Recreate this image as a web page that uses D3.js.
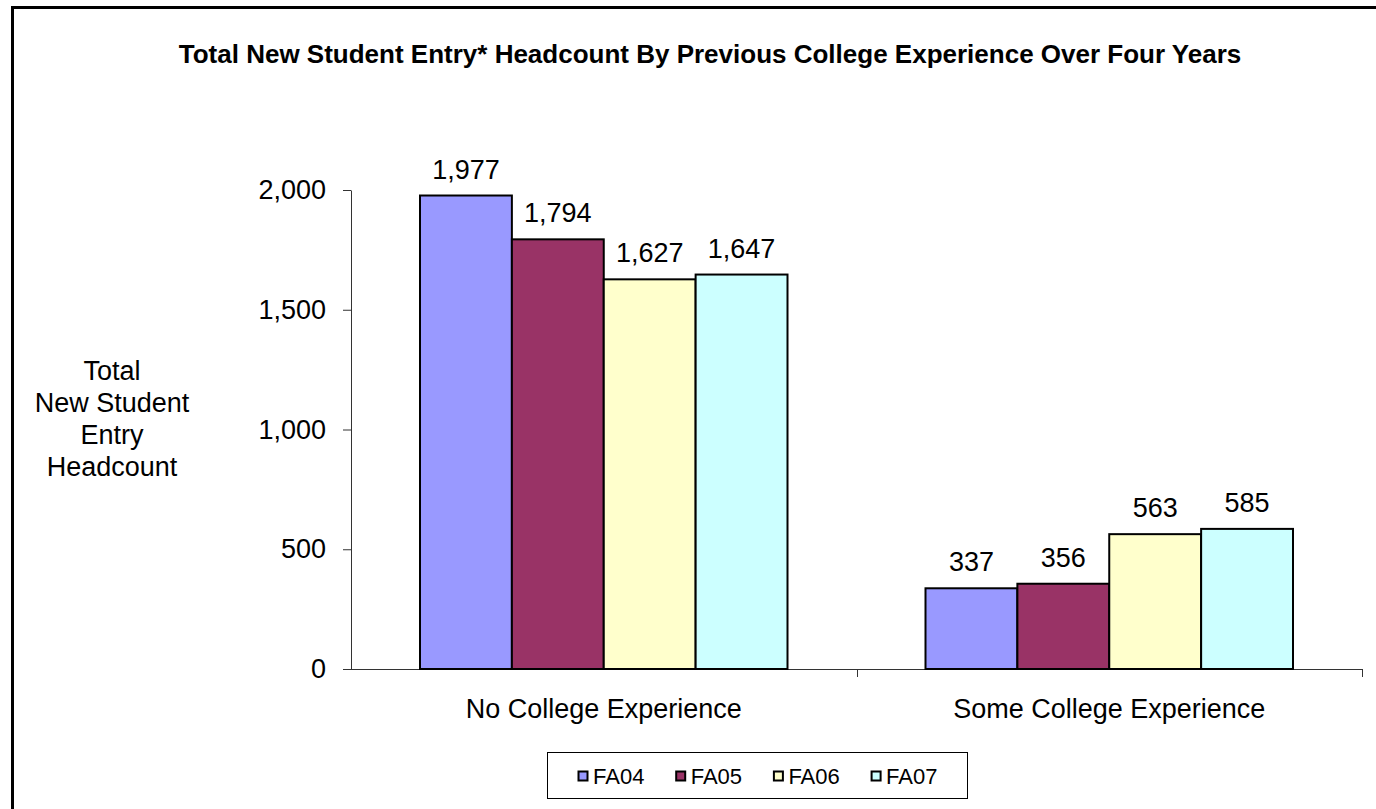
<!DOCTYPE html>
<html>
<head>
<meta charset="utf-8">
<script src="https://cdn.jsdelivr.net/npm/d3@7"></script>
<style>
  html, body { margin: 0; padding: 0; background: #fff; overflow: hidden; }
  svg text { font-family: "Liberation Sans", Arial, sans-serif; fill: #000; }
</style>
</head>
<body>
<svg id="chart" width="1376" height="809"></svg>
<script>
// data
const categories = ["No College Experience", "Some College Experience"];
const seriesNames = ["FA04", "FA05", "FA06", "FA07"];
const seriesColors = ["#9999FF", "#993366", "#FFFFCC", "#CCFFFF"];
const noCollege = [1977, 1794, 1627, 1647];
const someCollege = [337, 356, 563, 585];
const yTicks = [0, 500, 1000, 1500, 2000];
const yTitleLines = ["Total", "New Student", "Entry", "Headcount"];

const rows = categories.map((c, i) => ({
  category: c,
  values: [noCollege, someCollege][i].map((v, j) => ({ series: seriesNames[j], value: v }))
}));

const svg = d3.select("#chart");

// outer frame (runs past the right / bottom edge like the original)
svg.append("rect")
  .attr("x", 12.5).attr("y", 7.5)
  .attr("width", 1420).attr("height", 860)
  .attr("fill", "none").attr("stroke", "#000").attr("stroke-width", 3);

svg.append("text")
  .attr("x", 710).attr("y", 63)
  .attr("text-anchor", "middle")
  .style("font-size", "26px").style("font-weight", "bold")
  .text("Total New Student Entry* Headcount By Previous College Experience Over Four Years");

const x = d3.scaleBand().domain(categories).range([351, 1362]);
const xInner = d3.scaleBand().domain(seriesNames).range([69, x.bandwidth() - 69]);
const y = d3.scaleLinear().domain([0, 2000]).range([669, 190]);
const color = d3.scaleOrdinal().domain(seriesNames).range(seriesColors);

// y axis
const yAxis = svg.append("g")
  .attr("transform", "translate(351,0)")
  .call(d3.axisLeft(y).tickValues(yTicks).tickSize(8).tickSizeOuter(0).tickPadding(17).tickFormat(d3.format(",")));
yAxis.select(".domain").attr("stroke", "#333");
yAxis.selectAll(".tick line").attr("stroke", "#333");
yAxis.selectAll(".tick text").style("font-size", "27px").attr("fill", "#000");

// x axis: baseline plus ticks between categories
const xg = svg.append("g");
xg.append("line")
  .attr("x1", x.range()[0]).attr("x2", x.range()[1])
  .attr("y1", y(0) + 0.5).attr("y2", y(0) + 0.5)
  .attr("stroke", "#333");
const bounds = categories.map(c => x(c)).concat([x.range()[1]]);
xg.selectAll("line.tk").data(bounds.slice(1)).join("line")
  .attr("class", "tk")
  .attr("x1", d => Math.round(d) + 0.5).attr("x2", d => Math.round(d) + 0.5)
  .attr("y1", y(0)).attr("y2", y(0) + 8)
  .attr("stroke", "#333");
xg.selectAll("text").data(categories).join("text")
  .attr("x", d => x(d) + x.bandwidth() / 2)
  .attr("y", 718)
  .attr("text-anchor", "middle")
  .style("font-size", "27px")
  .text(d => d);

// bars
const groups = svg.selectAll("g.grp").data(rows).join("g")
  .attr("class", "grp")
  .attr("transform", d => `translate(${x(d.category)},0)`);

groups.selectAll("rect").data(d => d.values).join("rect")
  .attr("x", d => xInner(d.series))
  .attr("y", d => y(d.value))
  .attr("width", xInner.bandwidth())
  .attr("height", d => y(0) - y(d.value))
  .attr("fill", d => color(d.series))
  .attr("stroke", "#000").attr("stroke-width", 2);

groups.selectAll("text").data(d => d.values).join("text")
  .attr("x", d => xInner(d.series) + xInner.bandwidth() / 2)
  .attr("y", d => y(d.value) - 17)
  .attr("text-anchor", "middle")
  .style("font-size", "27px")
  .text(d => d3.format(",")(d.value));

// y axis title
svg.append("text")
  .attr("text-anchor", "middle")
  .style("font-size", "27px")
  .selectAll("tspan").data(yTitleLines).join("tspan")
  .attr("x", 112)
  .attr("y", (d, i) => 380 + i * 32)
  .text(d => d);

// legend
const legend = svg.append("g");
legend.append("rect")
  .attr("x", 547.5).attr("y", 752.5)
  .attr("width", 420).attr("height", 46)
  .attr("fill", "#fff").attr("stroke", "#000").attr("stroke-width", 1);
const items = legend.selectAll("g").data(seriesNames).join("g")
  .attr("transform", (d, i) => `translate(${578 + i * 97.7},776)`);
items.append("rect")
  .attr("x", 0.5).attr("y", -4.5)
  .attr("width", 9).attr("height", 9)
  .attr("fill", d => color(d))
  .attr("stroke", "#000").attr("stroke-width", 2);
items.append("text")
  .attr("x", 15).attr("y", 8)
  .style("font-size", "22px")
  .text(d => d);
</script>
</body>
</html>
